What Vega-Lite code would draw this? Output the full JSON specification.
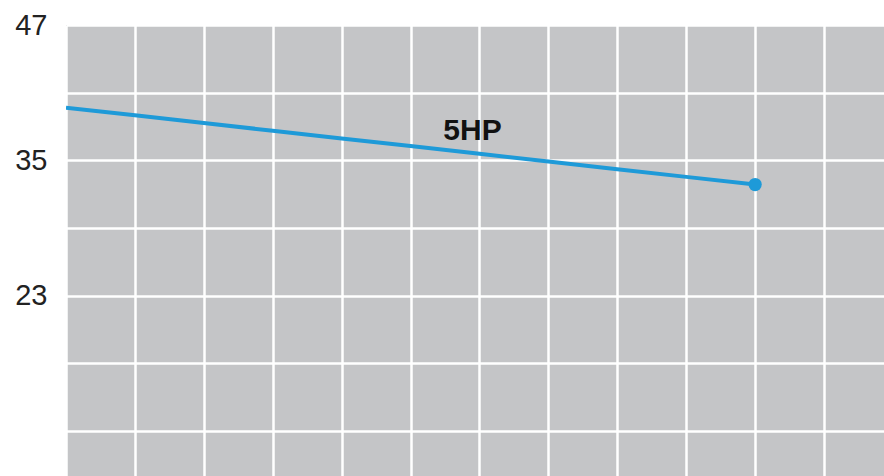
{
  "$schema": "https://vega.github.io/schema/vega-lite/v6.json",
  "width": 818,
  "height": 451,
  "autosize": {"type": "none"},
  "padding": {"left": 66, "top": 25, "right": 0, "bottom": 0},
  "background": "white",
  "config": {
    "view": {"fill": "#c4c5c7", "stroke": null},
    "font": "Liberation Sans"
  },
  "datasets": {
    "series": [
      {"t": 0, "v": 39.67},
      {"t": 1, "v": 38.99},
      {"t": 2, "v": 38.31},
      {"t": 3, "v": 37.62},
      {"t": 4, "v": 36.94},
      {"t": 5, "v": 36.26},
      {"t": 6, "v": 35.58},
      {"t": 7, "v": 34.89},
      {"t": 8, "v": 34.21},
      {"t": 9, "v": 33.53},
      {"t": 10, "v": 32.85}
    ],
    "last": [{"t": 10, "v": 32.85}],
    "label": [{"t": 6, "v": 35.58, "name": "5HP"}]
  },
  "layer": [
    {
      "data": {"name": "series"},
      "mark": {"type": "line", "color": "#1e9ad8", "strokeWidth": 4, "clip": true},
      "encoding": {
        "x": {
          "field": "t", "type": "quantitative",
          "scale": {"domain": [0, 11.87], "nice": false, "zero": false},
          "axis": {
            "values": [0, 1, 2, 3, 4, 5, 6, 7, 8, 9, 10, 11],
            "grid": true, "gridColor": "white", "gridWidth": 2.5, "gridOpacity": 1,
            "labels": false, "ticks": false, "domain": false, "title": null
          }
        },
        "y": {
          "field": "v", "type": "quantitative",
          "scale": {"domain": [7, 47], "nice": false, "zero": false},
          "axis": {
            "values": [11, 17, 23, 29, 35, 41, 47],
            "grid": true, "gridColor": "white", "gridWidth": 2.5, "gridOpacity": 1,
            "labelExpr": "datum.value == 47 || datum.value == 35 || datum.value == 23 ? datum.label : ''",
            "labelFontSize": 29, "labelColor": "#222", "labelPadding": 19,
            "labelBaseline": "middle", "labelFlush": false, "labelOverlap": false,
            "ticks": false, "domain": false, "title": null
          }
        }
      }
    },
    {
      "data": {"name": "last"},
      "mark": {"type": "point", "filled": true, "color": "#1e9ad8", "size": 175, "opacity": 1},
      "encoding": {
        "x": {"field": "t", "type": "quantitative"},
        "y": {"field": "v", "type": "quantitative"}
      }
    },
    {
      "data": {"name": "label"},
      "mark": {"type": "text", "fontSize": 30, "fontWeight": "bold", "color": "#111", "align": "center", "baseline": "alphabetic", "dx": -7, "dy": -14},
      "encoding": {
        "x": {"field": "t", "type": "quantitative"},
        "y": {"field": "v", "type": "quantitative"},
        "text": {"field": "name"}
      }
    }
  ]
}
